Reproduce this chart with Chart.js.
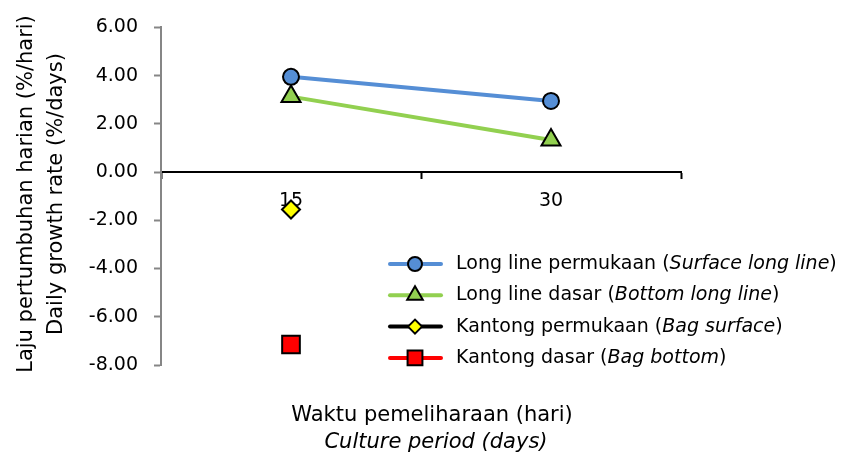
<!DOCTYPE html>
<html>
<head>
<meta charset="utf-8">
<script src="https://cdn.jsdelivr.net/npm/chart.js@4.4.1/dist/chart.umd.min.js"></script>
<style>
  body { margin: 0; background: #fff; }
  #wrap { width: 842px; height: 461px; }
</style>
</head>
<body>
<div id="wrap"><canvas id="myChart" width="842" height="461"></canvas></div>
<script>
// data
const categories = ['15', '30'];
const surfaceLongLine = [3.95, 2.95];
const bottomLongLine = [3.13, 1.33];
const bagSurface = [-1.55, null];
const bagBottom = [-7.15, null];
const yMin = -8, yMax = 6, yStep = 2;

const seriesNames = ['Long line permukaan', 'Long line dasar', 'Kantong permukaan', 'Kantong dasar'];
const seriesNamesEn = ['Surface long line', 'Bottom long line', 'Bag surface', 'Bag bottom'];
const xTitle = ['Waktu pemeliharaan (hari)', 'Culture period (days)'];
const yTitle = ['Laju pertumbuhan harian (%/hari)', 'Daily growth rate (%/days)'];

const fontFam = "'DejaVu Sans', sans-serif";

// titles + legend with italic parts, drawn by hand
const extrasPlugin = {
  id: 'extras',
  afterDraw(chart) {
    const ctx = chart.ctx;
    ctx.save();
    ctx.fillStyle = '#000';
    ctx.textBaseline = 'middle';
    ctx.textAlign = 'center';

    // x title
    ctx.font = '21px ' + fontFam;
    ctx.fillText(xTitle[0], 432, 416);
    ctx.font = 'italic 21px ' + fontFam;
    ctx.fillText(xTitle[1], 436, 443);

    // y title
    ctx.save();
    ctx.translate(27, 194);
    ctx.rotate(-Math.PI / 2);
    ctx.font = '21px ' + fontFam;
    ctx.fillText(yTitle[0], 0, 0);
    ctx.fillText(yTitle[1], 0, 30);
    ctx.restore();

    // legend
    ctx.textAlign = 'left';
    chart.data.datasets.forEach((ds, i) => {
      const y = 264 + i * 31.3;
      ctx.strokeStyle = ds.legendColor;
      ctx.lineWidth = 4;
      ctx.lineCap = 'round';
      ctx.beginPath();
      ctx.moveTo(390, y);
      ctx.lineTo(441, y);
      ctx.stroke();
      ctx.fillStyle = ds.pointBackgroundColor;
      ctx.strokeStyle = '#000';
      ctx.lineWidth = 2;
      Chart.helpers.drawPoint(ctx, {
        pointStyle: ds.pointStyle,
        radius: ds.legendRadius,
        rotation: 0,
        borderWidth: 2
      }, 415, y);

      ctx.fillStyle = '#000';
      let x = 456;
      const parts = [
        [seriesNames[i] + ' (', ''],
        [seriesNamesEn[i], 'italic '],
        [')', '']
      ];
      parts.forEach(p => {
        ctx.font = p[1] + '19px ' + fontFam;
        ctx.fillText(p[0], x, y);
        x += ctx.measureText(p[0]).width;
      });
    });
    ctx.restore();
  }
};

const ctx = document.getElementById('myChart').getContext('2d');

new Chart(ctx, {
  type: 'line',
  data: {
    labels: categories,
    datasets: [
      {
        label: seriesNames[0],
        data: surfaceLongLine,
        borderColor: '#558ED5',
        legendColor: '#558ED5',
        borderWidth: 4,
        pointStyle: 'circle',
        pointRadius: 8,
        legendRadius: 7,
        pointBackgroundColor: '#558ED5',
        pointBorderColor: '#000',
        pointBorderWidth: 2
      },
      {
        label: seriesNames[1],
        data: bottomLongLine,
        borderColor: '#92D050',
        legendColor: '#92D050',
        borderWidth: 4,
        pointStyle: 'triangle',
        pointRadius: 11,
        legendRadius: 9,
        pointBackgroundColor: '#92D050',
        pointBorderColor: '#000',
        pointBorderWidth: 2
      },
      {
        label: seriesNames[2],
        data: bagSurface,
        borderColor: '#000',
        legendColor: '#000',
        borderWidth: 4,
        showLine: false,
        pointStyle: 'rectRot',
        pointRadius: 9,
        legendRadius: 7,
        pointBackgroundColor: '#FFFF00',
        pointBorderColor: '#000',
        pointBorderWidth: 2
      },
      {
        label: seriesNames[3],
        data: bagBottom,
        borderColor: '#FF0000',
        legendColor: '#FF0000',
        borderWidth: 4,
        showLine: false,
        pointStyle: 'rect',
        pointRadius: 12.5,
        legendRadius: 10.5,
        pointBackgroundColor: '#FF0000',
        pointBorderColor: '#000',
        pointBorderWidth: 2
      }
    ]
  },
  options: {
    responsive: false,
    animation: false,
    layout: {
      padding: { left: 0, right: 161, top: 26, bottom: 96 }
    },
    plugins: {
      legend: { display: false },
      tooltip: { enabled: false }
    },
    scales: {
      x: {
        position: { y: 0 },
        offset: true,
        grid: {
          offset: true,
          drawOnChartArea: false,
          drawTicks: true,
          tickLength: 6,
          tickWidth: 2,
          tickColor: '#000'
        },
        border: { color: '#000', width: 2 },
        ticks: {
          color: '#000',
          padding: 12,
          font: { family: fontFam, size: 19 }
        }
      },
      y: {
        position: 'left',
        min: yMin,
        max: yMax,
        afterFit(scale) { scale.width = 161; },
        grid: {
          drawOnChartArea: false,
          tickLength: 7,
          tickWidth: 2,
          tickColor: '#868686'
        },
        border: { color: '#868686', width: 2 },
        ticks: {
          stepSize: yStep,
          color: '#000',
          padding: 16,
          font: { family: fontFam, size: 19 },
          callback: v => v.toFixed(2)
        }
      }
    }
  },
  plugins: [extrasPlugin]
});
</script>
</body>
</html>
